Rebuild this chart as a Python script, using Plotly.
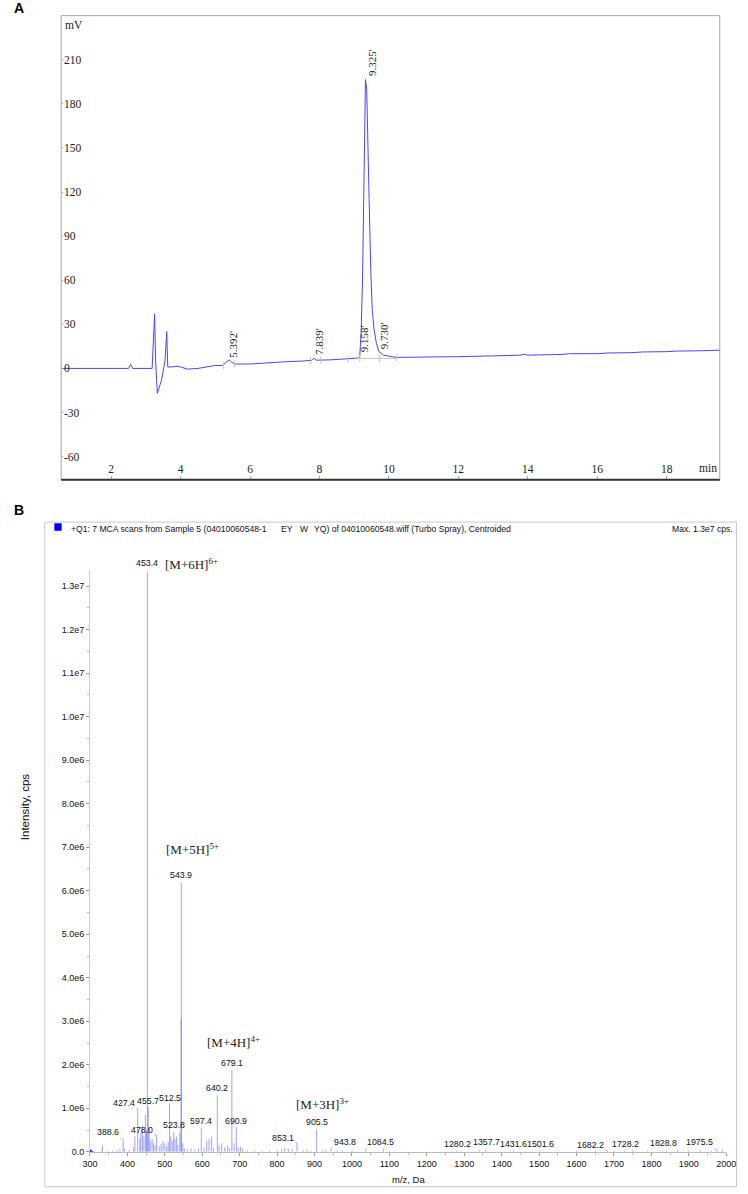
import plotly.graph_objects as go

W, H = 748, 1194

# ---------------- Panel A: chromatogram ----------------
t_min = [0.56, 2.50, 2.56, 2.62, 3.18, 3.22, 3.25, 3.28, 3.33, 3.45, 3.55, 3.60, 3.63, 3.75,
         3.90, 4.00, 4.20, 4.50, 4.80, 5.00, 5.20, 5.30, 5.40, 5.48, 5.56, 6.00, 6.50, 7.00,
         7.50, 7.78, 7.84, 7.90, 8.30, 8.80, 9.10, 9.16, 9.20, 9.24, 9.27, 9.30, 9.325, 9.36,
         9.39, 9.43, 9.48, 9.52, 9.57, 9.64, 9.71, 9.85, 10.20, 11.00, 11.80, 12.00, 13.00,
         13.80, 13.90, 14.00, 15.00, 15.20, 16.00, 16.30, 17.00, 17.30, 18.00, 18.30, 19.00, 19.53]
signal_mv = [0, 0, 2.8, 0, 0, 20, 37, 5, -17, -8, 5, 25, 1, 1,
             1.5, 1, -0.5, 0, 1, 2, 2, 4, 5.8, 4, 3, 3, 4, 4.5,
             5, 5.5, 7, 5.6, 5.8, 6.5, 7, 8, 25, 60, 120, 175, 196.5, 190,
             165, 115, 65, 40, 27, 17, 11.5, 9, 7.5, 7.5, 8, 8, 8.5,
             9, 9.7, 9, 9.5, 10, 10, 10.5, 10.7, 11.2, 11.4, 11.8, 12, 12.4]

peak_labels = ["5.392'", "7.839'", "9.158'", "9.325'", "9.730'"]
peak_t = [5.392, 7.839, 9.158, 9.325, 9.730]
peak_v = [5.8, 7.0, 8.0, 196.5, 10.0]
peak_dx = [4, 5, 4, 6, 4]
peak_dy = [-16, -17, -18, -17, -18]

bound_t = [5.24, 5.55, 7.74, 8.04, 8.82, 9.16, 9.73, 10.22]
bound_v = [2.0, 3.0, 5.3, 5.7, 6.5, 6.8, 6.9, 7.4]
base_t = [9.16, 10.22]
base_v = [6.8, 6.8]

a_xticks = [2, 4, 6, 8, 10, 12, 14, 16, 18]
a_yticks = [-60, -30, 0, 30, 60, 90, 120, 150, 180, 210]

# ---------------- Panel B: mass spectrum ----------------
ms_mz = [453.4, 543.9, 543.7, 679.1, 640.2, 512.5, 455.7, 427.4, 690.9, 597.4, 905.5, 523.8,
         478.0, 388.6, 853.1, 943.8, 1084.5, 1280.2, 1357.7, 1431.6, 1501.6, 1682.2, 1728.2,
         1828.8, 1975.5]
ms_int = [13.33e6, 6.19e6, 3.05e6, 1.89e6, 1.30e6, 1.11e6, 1.03e6, 0.98e6, 0.57e6, 0.54e6,
          0.52e6, 0.46e6, 0.38e6, 0.29e6, 0.20e6, 0.07e6, 0.08e6, 0.03e6, 0.05e6, 0.03e6,
          0.03e6, 0.03e6, 0.03e6, 0.03e6, 0.04e6]

minor_mz = [330, 333.5, 345, 360, 372, 380, 392, 405, 416, 420, 433, 436, 440, 444, 448, 451,
            458, 461, 466, 470, 474, 485, 490, 495, 500, 505, 509, 516, 520, 527, 531, 535,
            540, 548, 552, 560, 570, 580, 590, 605, 612, 618, 625, 630, 645, 652, 660, 668,
            673, 685, 696, 702, 708, 720, 740, 760, 780, 800, 812, 820, 830, 840, 870, 880,
            890, 920, 930, 960, 975, 1000, 1037, 1100, 1340, 1600, 1650, 1700, 1750, 1790,
            1840, 1870, 1900, 1930, 1960, 1990]
minor_int = [0.03e6, 0.15e6, 0.02e6, 0.03e6, 0.04e6, 0.05e6, 0.08e6, 0.05e6, 0.10e6, 0.35e6,
             0.30e6, 0.45e6, 0.60e6, 0.35e6, 0.85e6, 0.50e6, 0.55e6, 0.25e6, 0.30e6, 0.20e6,
             0.15e6, 0.12e6, 0.18e6, 0.25e6, 0.20e6, 0.12e6, 0.22e6, 0.35e6, 0.25e6, 0.30e6,
             0.35e6, 0.15e6, 0.45e6, 0.20e6, 0.08e6, 0.06e6, 0.08e6, 0.05e6, 0.08e6, 0.10e6,
             0.25e6, 0.30e6, 0.35e6, 0.10e6, 0.15e6, 0.20e6, 0.10e6, 0.15e6, 0.08e6, 0.20e6,
             0.10e6, 0.12e6, 0.08e6, 0.04e6, 0.03e6, 0.03e6, 0.03e6, 0.04e6, 0.06e6, 0.08e6,
             0.07e6, 0.05e6, 0.04e6, 0.06e6, 0.03e6, 0.04e6, 0.05e6, 0.03e6, 0.03e6, 0.03e6,
             0.08e6, 0.02e6, 0.04e6, 0.03e6, 0.03e6, 0.03e6, 0.04e6, 0.03e6, 0.03e6, 0.04e6,
             0.03e6, 0.04e6, 0.03e6, 0.05e6]

# labelled peaks: text, m/z, intensity, label offset (px), leader line?
lab_text = ["453.4", "543.9", "679.1", "640.2", "512.5", "455.7", "427.4", "690.9", "597.4",
            "905.5", "523.8", "478.0", "388.6", "853.1", "943.8", "1084.5", "1280.2", "1357.7",
            "1431.6", "1501.6", "1682.2", "1728.2", "1828.8", "1975.5"]
lab_mz = [453.4, 543.9, 679.1, 640.2, 512.5, 455.7, 427.4, 690.9, 597.4, 905.5, 523.8, 478.0,
          388.6, 853.1, 943.8, 1084.5, 1280.2, 1357.7, 1431.6, 1501.6, 1682.2, 1728.2, 1828.8,
          1975.5]
lab_int = [13.33e6, 6.19e6, 1.89e6, 1.30e6, 1.11e6, 1.03e6, 0.98e6, 0.57e6, 0.54e6, 0.52e6,
           0.46e6, 0.38e6, 0.29e6, 0.20e6, 0.07e6, 0.08e6, 0.03e6, 0.05e6, 0.03e6, 0.03e6,
           0.03e6, 0.03e6, 0.03e6, 0.04e6]
lab_dx = [0, 0, 0, 0, 0, 0, -14, 0, 0, 0, 0, -15, -15, -14, 14, -3, 1, 1, 0, 1, -17, 1, 1, -18]
lab_dy = [-9, -7, -7, -7, -6, -6, -6, -6, -7, -7, -7, -5, -7, -5, -7, -6, -7, -8, -7, -7, -6, -7, -8, -8]
lab_leader = [False, False, False, False, False, False, True, False, False, False, False, True,
              True, True, True, False, False, False, False, False, True, False, False, True]

ion_text = ["[M+6H]<sup>6+</sup>", "[M+5H]<sup>5+</sup>", "[M+4H]<sup>4+</sup>", "[M+3H]<sup>3+</sup>"]
ion_mz = [453.4, 543.9, 679.1, 905.5]
ion_int = [13.33e6, 6.19e6, 1.89e6, 0.52e6]
ion_dx = [44, 11, 2, 6]
ion_dy = [-8, -33, -28, -25]

b_yticks = [0, 1e6, 2e6, 3e6, 4e6, 5e6, 6e6, 7e6, 8e6, 9e6, 1e7, 1.1e7, 1.2e7, 1.3e7]
b_ytext = ["0.0", "1.0e6", "2.0e6", "3.0e6", "4.0e6", "5.0e6", "6.0e6", "7.0e6", "8.0e6",
           "9.0e6", "1.0e7", "1.1e7", "1.2e7", "1.3e7"]
b_xticks = list(range(300, 2001, 100))

header_parts = ["+Q1: 7 MCA scans from Sample 5 (04010060548-1", "EY", "W",
                "YQ) of 04010060548.wiff (Turbo Spray), Centroided"]
header_px = [62, 278, 297, 311]

# ---------------- geometry (pixels) ----------------
A_L, A_R, A_T, A_B = 54.5, 729.3, 15.7, 481.7
B_L, B_R, B_T, B_B = 84.0, 736.0, 572.7, 1156.7
BF_L, BF_R, BF_T, BF_B = 37.7, 746.5, 524.3, 1191.7


def px(x):
    return x / W


def py(y):
    return 1 - y / H


SERIF = "Liberation Serif, Times New Roman, serif"
SANS = "Liberation Sans, Arial, sans-serif"

fig = go.Figure()

# chromatogram trace
fig.add_trace(go.Scatter(x=t_min, y=signal_mv, mode="lines",
                         line=dict(color="rgb(70,70,255)", width=1),
                         xaxis="x", yaxis="y", hoverinfo="skip", showlegend=False))

# integration boundary marks & baseline
bx, by = [], []
for t, v in zip(bound_t, bound_v):
    bx += [t, t, None]
    by += [v - 2.5, v + 2.5, None]
bx += base_t + [None]
by += base_v + [None]
fig.add_trace(go.Scatter(x=bx, y=by, mode="lines", line=dict(color="#c4c4c4", width=1),
                         xaxis="x", yaxis="y", hoverinfo="skip", showlegend=False))

# mass spectrum sticks
sx, sy = [], []
for m, h in zip(minor_mz + ms_mz, minor_int + ms_int):
    sx += [m, m, None]
    sy += [0, h, None]
fig.add_trace(go.Scatter(x=sx, y=sy, mode="lines",
                         line=dict(color="rgba(70,70,255,0.5)", width=1),
                         xaxis="x2", yaxis="y2", hoverinfo="skip", showlegend=False))
fig.add_trace(go.Scatter(x=[b_xticks[0]], y=[0], mode="markers",
                         marker=dict(symbol="triangle-right", size=7, color="blue"),
                         xaxis="x2", yaxis="y2", hoverinfo="skip", showlegend=False))

annotations = []
# chromatogram peak labels
for txt, t, v, dx, dy in zip(peak_labels, peak_t, peak_v, peak_dx, peak_dy):
    annotations.append(dict(x=t, y=v, xref="x", yref="y", text=txt, textangle=-90,
                            showarrow=True, ax=dx, ay=dy, arrowcolor="rgba(0,0,0,0)",
                            font=dict(family=SERIF, size=11, color="#222")))
# axis captions panel A
annotations.append(dict(x=px(A_L + 2), y=py(25), xref="paper", yref="paper", text="mV",
                        showarrow=False, xanchor="left", yanchor="middle",
                        font=dict(family=SERIF, size=11.5, color="#222")))
annotations.append(dict(x=px(A_R - 1), y=py(470), xref="paper", yref="paper", text="min",
                        showarrow=False, xanchor="right", yanchor="middle",
                        font=dict(family=SERIF, size=11.5, color="#222")))
# panel letters
annotations.append(dict(x=px(4), y=py(8.5), xref="paper", yref="paper", text="<b>A</b>",
                        showarrow=False, xanchor="left", yanchor="middle",
                        font=dict(family=SANS, size=14, color="black")))
annotations.append(dict(x=px(4), y=py(512), xref="paper", yref="paper", text="<b>B</b>",
                        showarrow=False, xanchor="left", yanchor="middle",
                        font=dict(family=SANS, size=14, color="black")))
# MS labels
for txt, m, h, dx, dy, ld in zip(lab_text, lab_mz, lab_int, lab_dx, lab_dy, lab_leader):
    annotations.append(dict(x=m, y=h, xref="x2", yref="y2", text=txt, showarrow=True,
                            ax=dx, ay=dy, arrowhead=0, arrowwidth=0.7, standoff=0,
                            arrowcolor="#999" if ld else "rgba(0,0,0,0)",
                            font=dict(family=SANS, size=8.8, color="#111")))
for txt, m, h, dx, dy in zip(ion_text, ion_mz, ion_int, ion_dx, ion_dy):
    annotations.append(dict(x=m, y=h, xref="x2", yref="y2", text=txt, showarrow=True,
                            ax=dx, ay=dy, arrowcolor="rgba(0,0,0,0)",
                            font=dict(family=SERIF, size=13, color="#222")))
# header
for txt, x0 in zip(header_parts, header_px):
    annotations.append(dict(x=px(x0), y=py(531.5), xref="paper", yref="paper", text=txt,
                            showarrow=False, xanchor="left", yanchor="middle",
                            font=dict(family=SANS, size=8.6, color="#111")))
annotations.append(dict(x=px(745), y=py(531.5), xref="paper", yref="paper",
                        text="Max. 1.3e7 cps.", showarrow=False, xanchor="right",
                        yanchor="middle", font=dict(family=SANS, size=8.6, color="#111")))
annotations.append(dict(x=px(17), y=py(810), xref="paper", yref="paper",
                        text="Intensity, cps", textangle=-90, showarrow=False,
                        xanchor="center", yanchor="middle",
                        font=dict(family=SANS, size=11.5, color="#111")))
annotations.append(dict(x=px((B_L + B_R) / 2), y=py(1184), xref="paper", yref="paper",
                        text="m/z, Da", showarrow=False, xanchor="center", yanchor="middle",
                        font=dict(family=SANS, size=9.5, color="#111")))

shapes = [
    # panel A frame
    dict(type="rect", xref="paper", yref="paper", x0=px(A_L), x1=px(A_R), y0=py(A_B),
         y1=py(A_T), line=dict(color="#a8a8a8", width=1), layer="below"),
    dict(type="line", xref="paper", yref="paper", x0=px(A_L), x1=px(A_R), y0=py(A_B),
         y1=py(A_B), line=dict(color="#333", width=2)),
    # panel B frame
    dict(type="rect", xref="paper", yref="paper", x0=px(BF_L), x1=px(BF_R), y0=py(BF_B),
         y1=py(BF_T), line=dict(color="#c8c8c8", width=1), layer="below"),
    # blue square
    dict(type="rect", xref="paper", yref="paper", x0=px(47.5), x1=px(55), y0=py(533),
         y1=py(525.5), fillcolor="blue", line=dict(width=0)),
]

fig.update_layout(
    width=W, height=H, margin=dict(l=0, r=0, t=0, b=0),
    paper_bgcolor="white", plot_bgcolor="white", showlegend=False,
    annotations=annotations, shapes=shapes,
    xaxis=dict(domain=[px(A_L), px(A_R)], range=[0.56, 19.53], anchor="y",
               tickvals=a_xticks, ticktext=[str(v) for v in a_xticks],
               ticks="inside", ticklen=4, tickcolor="#aaa", ticklabelposition="inside",
               showgrid=False, zeroline=False, showline=False,
               tickfont=dict(family=SERIF, size=11.5, color="#222")),
    yaxis=dict(domain=[py(A_B), py(A_T)], range=[-75.7, 240], anchor="x",
               tickvals=a_yticks, ticktext=[str(v) for v in a_yticks],
               ticks="inside", ticklen=2, tickcolor="#aaa", ticklabelposition="inside",
               showgrid=False, zeroline=False, showline=False,
               tickfont=dict(family=SERIF, size=11.5, color="#222")),
    xaxis2=dict(domain=[px(B_L), px(B_R)], range=[300, 2000], anchor="y2",
                tickvals=b_xticks, ticktext=[str(v) for v in b_xticks],
                ticks="outside", ticklen=3, tickcolor="#999",
                minor=dict(dtick=50, tick0=300, ticks="outside", ticklen=2, tickcolor="#bbb"),
                showline=True, linecolor="#bbb", linewidth=1,
                showgrid=False, zeroline=False,
                tickfont=dict(family=SANS, size=9, color="#111")),
    yaxis2=dict(domain=[py(B_B), py(B_T)], range=[0, 1.3363e7], anchor="x2",
                tickvals=b_yticks, ticktext=b_ytext,
                ticks="outside", ticklen=3, tickcolor="#999",
                minor=dict(dtick=5e5, tick0=0, ticks="outside", ticklen=2, tickcolor="#bbb"),
                showline=True, linecolor="#ccc", linewidth=1,
                showgrid=False, zeroline=False,
                tickfont=dict(family=SANS, size=9, color="#111")),
)

fig.write_html("out.html")
